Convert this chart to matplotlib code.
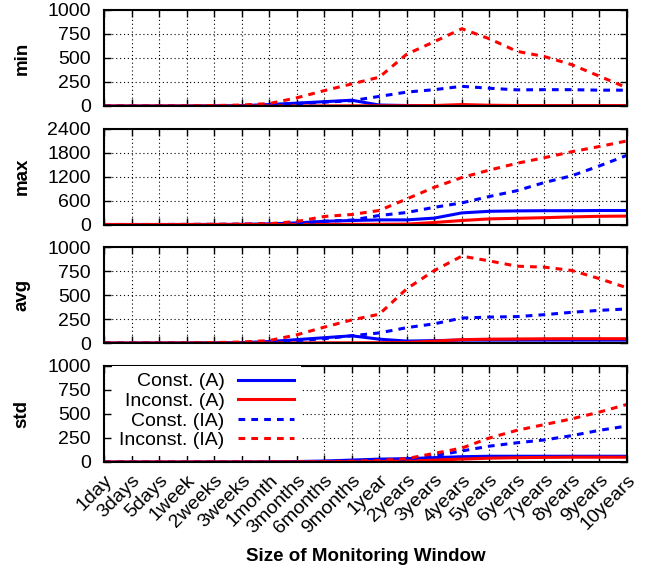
import matplotlib
matplotlib.use("Agg")
import matplotlib.pyplot as plt
import numpy as np

plt.rcParams['font.family'] = ['Liberation Sans', 'DejaVu Sans']

windows = ['1day', '3days', '5days', '1week', '2weeks', '3weeks', '1month',
           '3months', '6months', '9months', '1year', '2years', '3years',
           '4years', '5years', '6years', '7years', '8years', '9years', '10years']

labels = ['Const. (A)', 'Inconst. (A)', 'Const. (IA)', 'Inconst. (IA)']

min_const_a = [0, 0, 0, 1, 2, 4, 15, 30, 45, 60, 10, 5, 3, 3, 3, 3, 3, 3, 3, 3]
min_inconst_a = [0, 0, 0, 0, 0, 0, 1, 1, 1, 2, 2, 3, 5, 15, 8, 5, 4, 4, 4, 4]
min_const_ia = [0, 0, 0, 1, 2, 4, 10, 25, 40, 55, 100, 145, 170, 205, 185, 168, 170, 170, 165, 165]
min_inconst_ia = [0, 0, 0, 2, 5, 10, 25, 85, 160, 230, 300, 540, 670, 805, 700, 570, 515, 430, 310, 190]

max_const_a = [0, 0, 0, 1, 2, 5, 15, 40, 80, 100, 115, 115, 160, 290, 330, 340, 345, 345, 350, 350]
max_inconst_a = [0, 0, 0, 0, 0, 0, 1, 2, 3, 4, 5, 10, 50, 100, 140, 155, 170, 190, 205, 210]
max_const_ia = [0, 0, 0, 1, 2, 5, 15, 40, 80, 110, 225, 300, 430, 540, 700, 845, 1050, 1220, 1465, 1730]
max_inconst_ia = [0, 0, 0, 2, 5, 10, 20, 75, 200, 250, 350, 640, 930, 1175, 1360, 1530, 1670, 1820, 1950, 2090]

avg_const_a = [0, 0, 0, 1, 2, 4, 15, 35, 55, 75, 40, 20, 25, 30, 30, 30, 30, 30, 30, 30]
avg_inconst_a = [0, 0, 0, 0, 0, 0, 1, 1, 2, 2, 3, 5, 20, 35, 40, 42, 44, 45, 45, 45]
avg_const_ia = [0, 0, 0, 1, 2, 5, 12, 25, 45, 75, 105, 160, 200, 260, 270, 275, 295, 320, 340, 355]
avg_inconst_ia = [0, 0, 0, 2, 5, 10, 25, 85, 165, 240, 300, 565, 755, 905, 855, 800, 790, 755, 670, 575]

std_const_a = [0, 0, 0, 0, 1, 1, 2, 5, 10, 20, 30, 35, 45, 55, 60, 60, 60, 60, 60, 60]
std_inconst_a = [0, 0, 0, 0, 0, 0, 0, 1, 2, 3, 5, 10, 20, 30, 40, 45, 48, 50, 50, 50]
std_const_ia = [0, 0, 0, 0, 1, 1, 2, 4, 6, 10, 15, 30, 65, 115, 165, 200, 230, 275, 330, 375]
std_inconst_ia = [0, 0, 0, 0, 1, 1, 2, 3, 5, 8, 15, 35, 90, 145, 250, 330, 390, 450, 520, 600]

panels = [
    ('min', [min_const_a, min_inconst_a, min_const_ia, min_inconst_ia], [0, 250, 500, 750, 1000]),
    ('max', [max_const_a, max_inconst_a, max_const_ia, max_inconst_ia], [0, 600, 1200, 1800, 2400]),
    ('avg', [avg_const_a, avg_inconst_a, avg_const_ia, avg_inconst_ia], [0, 250, 500, 750, 1000]),
    ('std', [std_const_a, std_inconst_a, std_const_ia, std_inconst_ia], [0, 250, 500, 750, 1000]),
]

colors = ['#0000ff', '#ff0000', '#0000ff', '#ff0000']
styles = ['-', '-', (0, (2.2, 2.0)), (0, (2.2, 2.0))]

W, H = 646, 567
fig = plt.figure(figsize=(W / 100, H / 100), dpi=100)

x = np.arange(len(windows))
left, right = 104, 627
tops = [10, 128.5, 247, 366]
ph = 96

for k, (name, series, yticks) in enumerate(panels):
    ax = fig.add_axes([left / W, 1 - (tops[k] + ph) / H, (right - left) / W, ph / H])
    for s, lab, c, ls in zip(series, labels, colors, styles):
        ax.plot(x, s, color=c, linestyle=ls, linewidth=2.2, label=lab)
    ax.set_xlim(0, len(windows) - 1)
    ax.set_ylim(yticks[0], yticks[-1])
    ax.set_yticks(yticks)
    ax.set_xticks(x)
    ax.grid(True, color='black', linestyle=(0, (1, 2.5)), linewidth=0.8)
    ax.tick_params(direction='in', top=True, right=True, length=5, width=1,
                   labelsize=14)
    ax.tick_params(axis='y', pad=9.5)
    for sp in ax.spines.values():
        sp.set_linewidth(1.5)
    ax.set_ylabel(name, fontsize=13.5, fontweight='bold')
    ax.yaxis.set_label_coords(-0.14, 0.5)
    if k < 3:
        ax.set_xticklabels([])
    else:
        ax.set_xticklabels(windows, rotation=45, ha='right', rotation_mode='anchor',
                           fontsize=14)
        ax.tick_params(axis='x', pad=7)
        ax.set_xlabel('Size of Monitoring Window', fontsize=13.5, fontweight='bold',
                      labelpad=8)
        leg = ax.legend(loc='upper left', bbox_to_anchor=(0.016, 1.0),
                        markerfirst=False, frameon=True,
                        fontsize=14, handlelength=2.9, borderaxespad=0.0,
                        labelspacing=0.1, handletextpad=0.7, borderpad=0.35,
                        fancybox=False)
        leg.get_frame().set_edgecolor('none')
        leg.get_frame().set_alpha(1)
        for t in leg.get_texts():
            t.set_ha('right')

fig.savefig('out.png', dpi=100)
